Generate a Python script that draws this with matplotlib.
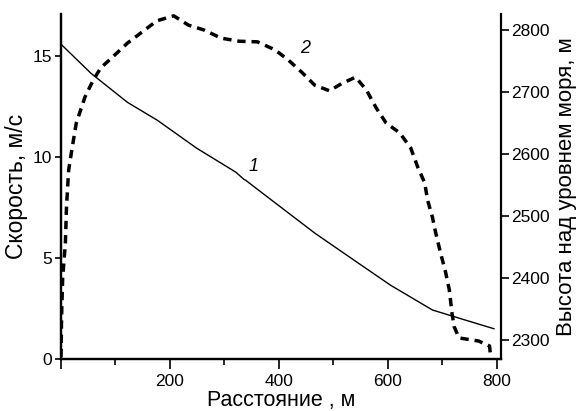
import matplotlib
matplotlib.use("Agg")
import matplotlib.pyplot as plt

plt.rcParams['font.family'] = ['Liberation Sans', 'DejaVu Sans']

# Curve 1: speed (m/s) vs distance (m)
dist1 = [0, 55, 122, 177, 249, 321, 336, 339, 399, 466, 538, 605, 682, 740, 795]
speed = [15.6, 14.16, 12.72, 11.83, 10.45, 9.26, 8.9, 8.86, 7.62, 6.24, 4.9,
         3.66, 2.43, 1.95, 1.5]

# Curve 2: altitude (m) vs distance (m)
dist2 = [0, 1, 3, 8, 10, 14, 19, 28, 44, 59, 73, 99, 122, 149, 176, 207, 234,
         263, 294, 327, 361, 393, 417, 442, 466, 493, 516, 541, 561, 579, 597,
         622, 642, 655, 668, 673, 682, 688, 697, 706, 713, 718, 722, 731, 767,
         787, 789]
alt = [2272, 2337, 2400, 2456, 2514, 2574, 2602, 2650, 2692, 2719, 2739, 2760,
       2779, 2797, 2815, 2823, 2808, 2800, 2787, 2782, 2781, 2768, 2752, 2732,
       2711, 2702, 2714, 2724, 2703, 2674, 2650, 2634, 2610, 2579, 2553, 2526,
       2498, 2473, 2440, 2410, 2381, 2343, 2321, 2303, 2298, 2290, 2272]

xticks = [0, 200, 400, 600, 800]
xticklabels = ['', '200', '400', '600', '800']
xminor = [100, 300, 500, 700]
yticks_left = [0, 5, 10, 15]
yticks_right = [2300, 2400, 2500, 2600, 2700, 2800]

fig = plt.figure(figsize=(5.79, 4.11), dpi=100)
ax = fig.add_axes([0.1054, 0.1265, 0.7599, 0.8395])
ax2 = ax.twinx()

ax.plot(dist1, speed, color='black', lw=1.0)
ax2.plot(dist2, alt, color='black', lw=2.5, dashes=(2.4, 1.7))

ax.set_xlim(0, 808)
ax.set_ylim(0, 17.1)
ax2.set_ylim(2269, 2826)

ax.set_xticks(xticks)
ax.set_xticklabels(xticklabels)
ax.set_xticks(xminor, minor=True)
ax.set_yticks(yticks_left)
ax2.set_yticks(yticks_right)

for a in (ax, ax2):
    a.spines['top'].set_visible(False)
    for s in ('left', 'right', 'bottom'):
        a.spines[s].set_linewidth(1.6)
ax.spines['right'].set_visible(False)

ax.tick_params(axis='x', which='major', direction='out', length=7, width=1.2,
               labelsize=12.5, pad=4)
ax.tick_params(axis='x', which='minor', direction='out', length=4, width=1.2)
ax.tick_params(axis='y', which='major', direction='out', length=4.5, width=1.2,
               labelsize=12.5, pad=2)
ax2.tick_params(axis='y', which='major', direction='out', length=6, width=1.2,
                labelsize=12.5, pad=1)

ax.set_xlabel('Расстояние , м', fontsize=15.5, labelpad=0.5)
ax.set_ylabel('Скорость, м/с', fontsize=16.5, labelpad=3)
ax2.set_ylabel('Высота над уровнем моря, м', fontsize=16, labelpad=5)

ax.text(354, 9.55, '1', fontsize=13, style='italic', ha='center', va='center')
ax2.text(448, 2771, '2', fontsize=13, style='italic', ha='center', va='center')

fig.savefig('out.png', dpi=100)
